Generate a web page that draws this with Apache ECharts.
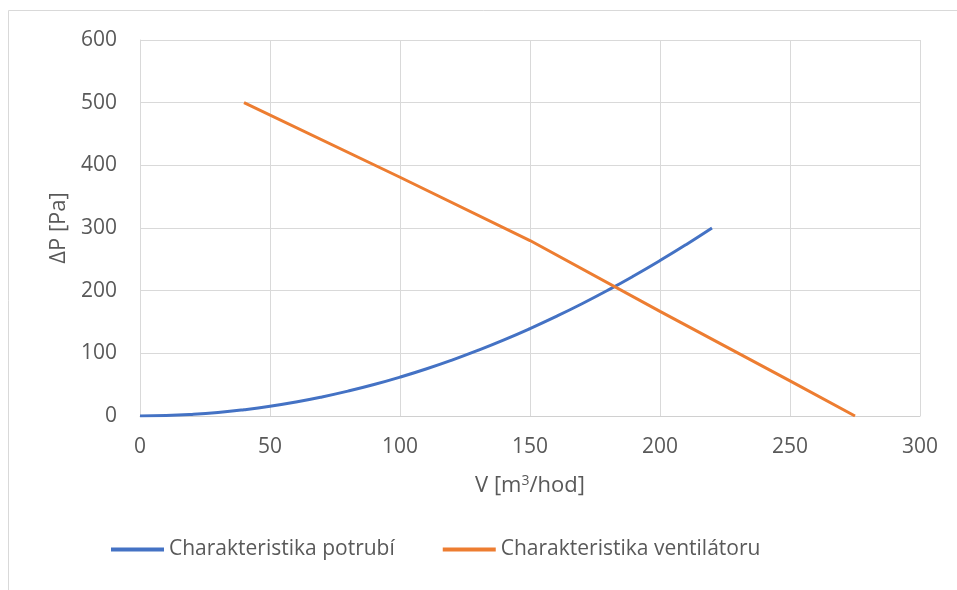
<!DOCTYPE html>
<html><head><meta charset="utf-8">
<script src="https://cdn.jsdelivr.net/npm/echarts@6/dist/echarts.min.js"></script>
<style>html,body{margin:0;padding:0;background:#fff;}#c{width:957px;height:590px;}</style>
</head><body><div id="c"></div>
<script>
const xTicks = [0, 50, 100, 150, 200, 250, 300];
const yTicks = [0, 100, 200, 300, 400, 500, 600];
const pipeV = [0, 10, 20, 30, 40, 50, 60, 70, 80, 90, 100, 110, 120, 130, 140, 150, 160, 170, 180, 190, 200, 210, 220];
const pipeP = [0, 0.6, 2.5, 5.6, 10, 15.5, 22.3, 30.4, 39.7, 50.2, 62, 75, 89.3, 104.8, 121.5, 139.5, 158.7, 179.1, 200.8, 223.8, 248, 273.4, 300];
const fanV = [40, 100, 150, 200, 250, 275];
const fanP = [500, 381, 280, 167, 56, 0];
const seriesNames = ['Charakteristika potrubí', 'Charakteristika ventilátoru'];

const font = 'Open Sans';
const chart = echarts.init(document.getElementById('c'));
chart.setOption({
  animation: false,
  textStyle: {fontFamily: font},
  graphic: [{type: 'rect', shape: {x: 8.5, y: 10.5, width: 1200, height: 1200}, style: {fill: 'none', stroke: '#d9d9d9', lineWidth: 1}, silent: true}],
  grid: {left: 140, right: 37, top: 40, bottom: 174},
  xAxis: {
    type: 'value', min: xTicks[0], max: xTicks[xTicks.length - 1], interval: 50,
    name: 'V [m{sup|3}/hod]', nameLocation: 'middle', nameGap: 58,
    nameTextStyle: {fontSize: 22, color: '#595959', fontFamily: font, rich: {sup: {fontSize: 14, verticalAlign: 'top', padding: [0, 0, 10, 0], color: '#595959'}}},
    axisLine: {show: true, lineStyle: {color: '#d0d0d0', width: 1}},
    axisTick: {show: false},
    axisLabel: {fontSize: 21, color: '#595959', margin: 21, fontFamily: font},
    splitLine: {show: true, lineStyle: {color: '#d9d9d9', width: 1}}
  },
  yAxis: {
    type: 'value', min: yTicks[0], max: yTicks[yTicks.length - 1], interval: 100,
    name: 'ΔP [Pa]', nameLocation: 'middle', nameGap: 56,
    nameTextStyle: {fontSize: 22, color: '#595959', fontFamily: font},
    axisLine: {show: true, lineStyle: {color: '#d9d9d9', width: 1}},
    axisTick: {show: false},
    axisLabel: {fontSize: 21, color: '#595959', margin: 23, fontFamily: font},
    splitLine: {show: true, lineStyle: {color: '#d9d9d9', width: 1}}
  },
  legend: {
    top: 539, left: 111, padding: 0, itemWidth: 53, itemHeight: 4, itemGap: 48,
    textStyle: {fontSize: 21, color: '#595959', fontFamily: font},
    data: seriesNames.map(n => ({name: n, icon: 'rect'}))
  },
  series: [
    {name: seriesNames[0], type: 'line', smooth: true, showSymbol: false, symbol: 'none',
     data: pipeV.map((v, i) => [v, pipeP[i]]), lineStyle: {color: '#4472C4', width: 3}, itemStyle: {color: '#4472C4'}},
    {name: seriesNames[1], type: 'line', smooth: false, showSymbol: false, symbol: 'none',
     data: fanV.map((v, i) => [v, fanP[i]]), lineStyle: {color: '#ED7D31', width: 3}, itemStyle: {color: '#ED7D31'}}
  ]
});
</script></body></html>
